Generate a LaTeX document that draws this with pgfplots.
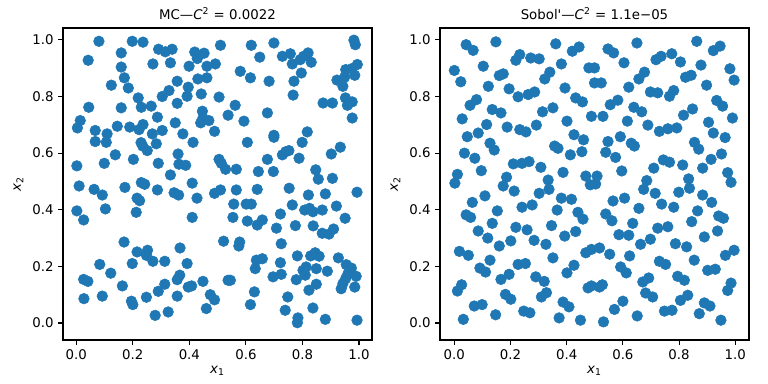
\documentclass[border=0pt]{standalone}
\usepackage{fontspec}
\setmainfont{DejaVu Sans}
\usepackage{pgfplots}
\pgfplotsset{compat=1.18}
\definecolor{mplblue}{HTML}{1F77B4}
\pgfplotsset{
  myax/.style={
    scale only axis, width=231.75pt, height=234pt, anchor=south west,
    xtick={0,0.2,0.4,0.6,0.8,1.0}, ytick={0,0.2,0.4,0.6,0.8,1.0},
    tick align=outside, tick pos=left, major tick length=3.5pt,
    every tick/.style={black, line width=0.8pt},
    axis line style={line width=0.8pt},
    /pgf/number format/fixed, /pgf/number format/fixed zerofill,
    /pgf/number format/precision=1, /pgf/number format/assume math mode=true,
    ticklabel style={font=\fontsize{10}{12}\selectfont},
    label style={font=\fontsize{10}{12}\selectfont},
    title style={font=\fontsize{10}{12}\selectfont, yshift=-3pt},
    xlabel={\textit{x}\textsubscript{1}}, ylabel={\textit{x}\textsubscript{2}},
    xlabel style={yshift=2pt},
  },
  dots/.style={only marks, mark=*, mark size=4pt, color=mplblue, mark options={fill=mplblue, draw=none}},
}
\begin{document}
\begin{tikzpicture}[x=1pt,y=1pt]
\useasboundingbox (0,0) rectangle (576,288);
\begin{axis}[myax, at={(47.25pt,33pt)}, xmin=-0.047, xmax=1.046, ymin=-0.060, ymax=1.042,
  title={MC—\textit{C}\textsuperscript{2}\,\,=\,\,0.0022}]
\addplot[dots] coordinates {
(0.080,0.995) (0.198,0.995) (0.236,0.992) (0.159,0.954) (0.042,0.928) (0.291,0.967) (0.315,0.958) (0.339,0.967)
(0.419,0.957) (0.452,0.953) (0.428,0.934) (0.510,0.981) (0.271,0.915) (0.333,0.919) (0.159,0.904) (0.399,0.907)
(0.462,0.907) (0.170,0.866) (0.124,0.840) (0.184,0.830) (0.357,0.854) (0.430,0.862) (0.462,0.866) (0.396,0.833)
(0.328,0.821) (0.304,0.800) (0.392,0.801) (0.442,0.809) (0.505,0.798) (0.219,0.795) (0.357,0.776) (0.044,0.762)
(0.159,0.760) (0.230,0.762) (0.265,0.766) (0.287,0.727) (0.446,0.748) (0.448,0.724) (0.469,0.715) (0.440,0.707)
(0.014,0.715) (0.004,0.689) (0.067,0.680) (0.109,0.668) (0.145,0.695) (0.189,0.692) (0.222,0.683) (0.236,0.701)
(0.269,0.668) (0.304,0.680) (0.350,0.707) (0.377,0.668) (0.489,0.677)
(0.619,0.981) (0.699,0.989) (0.649,0.939) (0.729,0.942) (0.757,0.951) (0.764,0.915) (0.792,0.930) (0.804,0.942)
(0.820,0.954) (0.831,0.921) (0.492,0.915) (0.580,0.889) (0.796,0.883) (0.616,0.866) (0.682,0.854) (0.770,0.854)
(0.982,0.999) (0.987,0.983) (0.994,0.913) (0.953,0.895) (0.976,0.899) (0.985,0.875) (0.949,0.868) (0.922,0.858)
(0.943,0.836) (0.767,0.805) (0.873,0.777) (0.906,0.777) (0.952,0.795) (0.976,0.781) (0.959,0.769) (0.562,0.769)
(0.537,0.734) (0.593,0.713) (0.676,0.742) (0.976,0.724) (0.699,0.663) (0.817,0.675)
(0.067,0.641) (0.106,0.638) (0.229,0.637) (0.235,0.625) (0.283,0.633) (0.413,0.638) (0.251,0.609) (0.138,0.594)
(0.360,0.597) (0.202,0.578) (0.002,0.555) (0.099,0.564) (0.290,0.564) (0.363,0.561) (0.387,0.557) (0.505,0.578)
(0.513,0.564) (0.528,0.543) (0.333,0.523) (0.010,0.484) (0.063,0.472) (0.092,0.452) (0.172,0.479) (0.230,0.496)
(0.242,0.490) (0.287,0.470) (0.410,0.494) (0.346,0.460) (0.362,0.452) (0.489,0.458) (0.510,0.470) (0.215,0.441)
(0.224,0.432) (0.427,0.441) (0.002,0.396) (0.026,0.364) (0.103,0.403) (0.212,0.391) (0.410,0.373)
(0.699,0.656) (0.605,0.638) (0.799,0.638) (0.934,0.621) (0.902,0.597) (0.729,0.594) (0.741,0.605) (0.752,0.609)
(0.676,0.578) (0.788,0.582) (0.566,0.543) (0.644,0.535) (0.697,0.535) (0.847,0.541) (0.856,0.508) (0.906,0.511)
(0.566,0.470) (0.640,0.472) (0.753,0.476) (0.821,0.452) (0.881,0.456) (0.993,0.462) (0.557,0.420) (0.601,0.420)
(0.619,0.420) (0.764,0.417) (0.808,0.399) (0.825,0.405) (0.837,0.393) (0.870,0.399) (0.920,0.413) (0.554,0.373)
(0.605,0.360) (0.640,0.346) (0.658,0.364) (0.722,0.385) (0.708,0.335) (0.775,0.344) (0.838,0.343) (0.951,0.370)
(0.870,0.317) (0.894,0.314) (0.910,0.332)
(0.169,0.286) (0.215,0.251) (0.252,0.257) (0.248,0.239) (0.271,0.218) (0.313,0.218) (0.367,0.265) (0.392,0.210)
(0.198,0.210) (0.083,0.207) (0.122,0.176) (0.026,0.154) (0.041,0.147) (0.163,0.131) (0.027,0.086) (0.092,0.095)
(0.195,0.077) (0.200,0.065) (0.248,0.091) (0.290,0.112) (0.313,0.137) (0.357,0.153) (0.366,0.169) (0.396,0.127)
(0.408,0.131) (0.357,0.095) (0.279,0.027) (0.325,0.039) (0.448,0.147) (0.474,0.100) (0.489,0.082) (0.460,0.051)
(0.521,0.289) (0.578,0.286) (0.575,0.272) (0.725,0.280) (0.637,0.222) (0.658,0.227) (0.633,0.192) (0.722,0.213)
(0.782,0.237) (0.829,0.237) (0.845,0.248) (0.859,0.236) (0.927,0.230) (0.696,0.163) (0.725,0.172) (0.802,0.186)
(0.813,0.198) (0.810,0.169) (0.849,0.192) (0.888,0.183) (0.778,0.153) (0.849,0.137) (0.955,0.206) (0.973,0.194)
(0.961,0.174) (0.953,0.157) (0.943,0.139) (0.937,0.121) (0.990,0.165) (0.985,0.127) (0.537,0.151) (0.545,0.151)
(0.630,0.110) (0.616,0.065) (0.823,0.116) (0.748,0.092) (0.739,0.045) (0.837,0.053) (0.784,0.018) (0.782,0.001)
(0.881,0.013) (0.993,0.010)
};
\end{axis}
\begin{axis}[myax, at={(330pt,33pt)}, xmin=-0.051, xmax=1.049, ymin=-0.060, ymax=1.042,
  title={Sobol\textquotesingle—\textit{C}\textsuperscript{2}\,\,=\,\,1.1e−05}]
\addplot[dots] coordinates {
(0.042,0.983) (0.067,0.963) (0.148,0.993) (0.361,0.986) (0.420,0.960) (0.444,0.975) (0.000,0.892) (0.023,0.852)
(0.103,0.907) (0.219,0.928) (0.233,0.948) (0.272,0.936) (0.302,0.933) (0.381,0.915) (0.479,0.901) (0.499,0.901)
(0.160,0.874) (0.174,0.880) (0.340,0.886) (0.322,0.862) (0.121,0.836) (0.195,0.827) (0.394,0.830) (0.499,0.848)
(0.523,0.848) (0.227,0.799) (0.263,0.807) (0.286,0.816) (0.432,0.795) (0.456,0.781) (0.079,0.789) (0.056,0.769)
(0.135,0.754) (0.166,0.742) (0.351,0.760) (0.314,0.746) (0.028,0.721) (0.488,0.730) (0.115,0.701) (0.188,0.692)
(0.233,0.683) (0.255,0.675) (0.292,0.699) (0.401,0.713) (0.085,0.671) (0.046,0.658) (0.426,0.665)
(0.547,0.968) (0.567,0.954) (0.650,0.989) (0.863,0.995) (0.922,0.962) (0.946,0.978) (0.718,0.930) (0.736,0.942)
(0.774,0.951) (0.604,0.919) (0.805,0.922) (0.878,0.911) (0.677,0.886) (0.657,0.862) (0.823,0.868) (0.843,0.875)
(0.981,0.898) (0.996,0.858) (0.621,0.833) (0.898,0.840) (0.698,0.816) (0.724,0.813) (0.766,0.801) (0.781,0.821)
(0.582,0.787) (0.555,0.771) (0.639,0.762) (0.667,0.746) (0.934,0.786) (0.955,0.766) (0.848,0.756) (0.816,0.734)
(0.529,0.730) (0.616,0.713) (0.689,0.699) (0.990,0.724) (0.905,0.709) (0.730,0.677) (0.760,0.686) (0.792,0.689)
(0.591,0.658) (0.922,0.671) (0.964,0.655)
(0.460,0.647) (0.127,0.635) (0.142,0.611) (0.357,0.625) (0.369,0.617) (0.036,0.600) (0.073,0.582) (0.413,0.594)
(0.454,0.605) (0.210,0.562) (0.241,0.564) (0.266,0.570) (0.308,0.550) (0.096,0.538) (0.387,0.532) (0.011,0.525)
(0.002,0.494) (0.186,0.515) (0.468,0.519) (0.508,0.519) (0.484,0.488) (0.503,0.491) (0.334,0.505) (0.174,0.484)
(0.213,0.466) (0.337,0.472) (0.302,0.458) (0.109,0.449) (0.064,0.426) (0.381,0.441) (0.417,0.437) (0.241,0.409)
(0.277,0.417) (0.153,0.396) (0.366,0.399) (0.042,0.382) (0.058,0.373) (0.440,0.391) (0.458,0.367) (0.135,0.352)
(0.219,0.338) (0.259,0.329) (0.346,0.344) (0.085,0.325) (0.432,0.323)
(0.547,0.641) (0.630,0.635) (0.641,0.625) (0.855,0.638) (0.870,0.614) (0.539,0.603) (0.574,0.585) (0.951,0.597)
(0.914,0.578) (0.744,0.576) (0.766,0.568) (0.813,0.558) (0.884,0.547) (0.710,0.547) (0.596,0.537) (0.973,0.531)
(0.985,0.497) (0.834,0.509) (0.685,0.503) (0.674,0.472) (0.715,0.458) (0.799,0.462) (0.837,0.476) (0.884,0.452)
(0.565,0.431) (0.606,0.441) (0.916,0.426) (0.738,0.420) (0.781,0.409) (0.657,0.405) (0.539,0.385) (0.866,0.396)
(0.561,0.361) (0.635,0.352) (0.845,0.358) (0.941,0.378) (0.958,0.370) (0.724,0.335) (0.760,0.340) (0.937,0.325)
(0.586,0.312) (0.621,0.310) (0.698,0.296) (0.890,0.304)
(0.119,0.300) (0.201,0.290) (0.284,0.292) (0.326,0.278) (0.393,0.307) (0.160,0.272) (0.018,0.253) (0.050,0.239)
(0.351,0.230) (0.468,0.248) (0.488,0.260) (0.517,0.265) (0.127,0.222) (0.091,0.194) (0.111,0.180) (0.227,0.207)
(0.253,0.210) (0.426,0.204) (0.401,0.177) (0.195,0.172) (0.166,0.154) (0.290,0.163) (0.320,0.147) (0.026,0.135)
(0.011,0.113) (0.476,0.124) (0.488,0.131) (0.517,0.127) (0.527,0.135) (0.182,0.101) (0.201,0.084) (0.328,0.107)
(0.310,0.092) (0.387,0.074) (0.408,0.057) (0.071,0.060) (0.099,0.065) (0.147,0.029) (0.247,0.042) (0.269,0.036)
(0.032,0.013) (0.373,0.018) (0.449,0.010)
(0.663,0.278) (0.787,0.280) (0.827,0.269) (0.553,0.243) (0.624,0.237) (0.854,0.222) (0.965,0.239) (0.996,0.257)
(0.730,0.218) (0.752,0.207) (0.592,0.198) (0.612,0.177) (0.902,0.186) (0.929,0.190) (0.795,0.165) (0.819,0.151)
(0.671,0.145) (0.692,0.159) (0.985,0.141) (0.973,0.115) (0.681,0.106) (0.706,0.092) (0.831,0.098) (0.805,0.080)
(0.890,0.071) (0.910,0.060) (0.600,0.077) (0.570,0.048) (0.748,0.042) (0.775,0.045) (0.651,0.025) (0.872,0.033)
(0.531,0.004) (0.949,0.010)
};
\end{axis}
\end{tikzpicture}
\end{document}
